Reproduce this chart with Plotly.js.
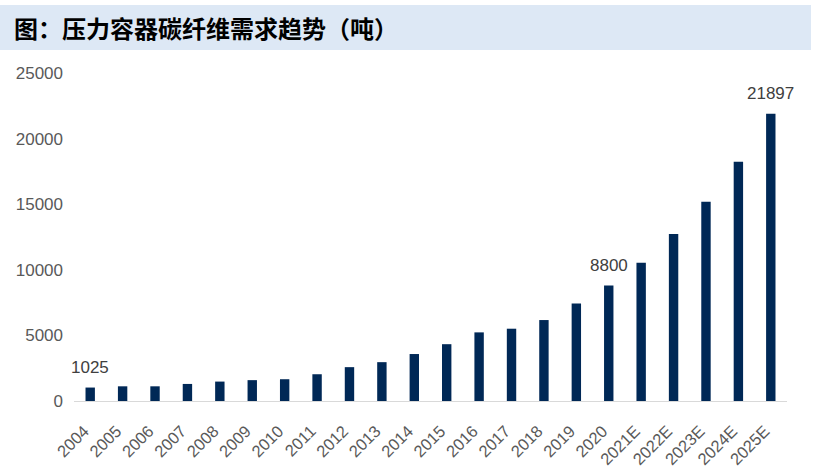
<!DOCTYPE html>
<html>
<head>
<meta charset="utf-8">
<script src="https://cdn.plot.ly/plotly-3.0.1.min.js"></script>
<style>
html,body{margin:0;padding:0;background:#fff;}
#chart{width:821px;height:468px;}
</style>
</head>
<body>
<div id="chart"></div>
<script>
var categories = ["2004","2005","2006","2007","2008","2009","2010","2011","2012","2013","2014","2015","2016","2017","2018","2019","2020","2021E","2022E","2023E","2024E","2025E"];
var demand = [1025,1120,1120,1300,1480,1590,1660,2040,2580,2960,3580,4330,5230,5510,6170,7430,8800,10540,12730,15190,18240,21897];
var labelledCategories = ["2004","2020","2025E"];
var yTicks = [0,5000,10000,15000,20000,25000];
var titleText = "图：压力容器碳纤维需求趋势（吨）";

var annotations = labelledCategories.map(function(c){
  var i = categories.indexOf(c);
  var v = demand[i];
  return {x:i, y:v, xref:'x', yref:'y', text:String(v), showarrow:false,
    yanchor:'bottom', yshift:9,
    font:{family:'Liberation Sans, Arial, sans-serif', size:17, color:'#404040'}};
});

var trace = {
  type:'bar', x:categories, y:demand,
  marker:{color:'#002856'},
  hoverinfo:'x+y'
};

var layout = {
  width:821, height:468,
  margin:{l:74, r:34, t:73, b:67},
  paper_bgcolor:'#ffffff', plot_bgcolor:'#ffffff',
  bargap:0.71,
  showlegend:false,
  title:{text:'<b>'+titleText+'</b>', x:14/821, xanchor:'left', xref:'container',
    y:1-30/468, yanchor:'middle', yref:'container',
    font:{family:'Noto Sans CJK SC, sans-serif', size:24, color:'#000000'}},
  shapes:[{type:'rect', xref:'paper', yref:'paper', layer:'below',
    x0:-74/713, x1:(811-74)/713, y0:(401-50)/328, y1:(401-5)/328,
    fillcolor:'#dde8f5', line:{width:0}}],
  xaxis:{type:'category', range:[-0.5, categories.length-0.5], autorange:false,
    tickangle:-45, showgrid:false, zeroline:false,
    showline:true, linecolor:'#d9d9d9', linewidth:1,
    ticks:'outside', ticklen:13, tickcolor:'rgba(0,0,0,0)', ticklabelshift:-6,
    tickfont:{family:'Liberation Sans, Arial, sans-serif', size:16.5, color:'#595959'}},
  yaxis:{range:[0,25000], autorange:false, tickvals:yTicks, ticktext:yTicks.map(String),
    showgrid:false, zeroline:false, showline:false, ticks:'', ticklen:0, ticklabelstandoff:10,
    tickfont:{family:'Liberation Sans, Arial, sans-serif', size:17, color:'#595959'}},
  annotations:annotations
};

Plotly.newPlot('chart',[trace],layout,{displayModeBar:false, staticPlot:true});
</script>
</body>
</html>
